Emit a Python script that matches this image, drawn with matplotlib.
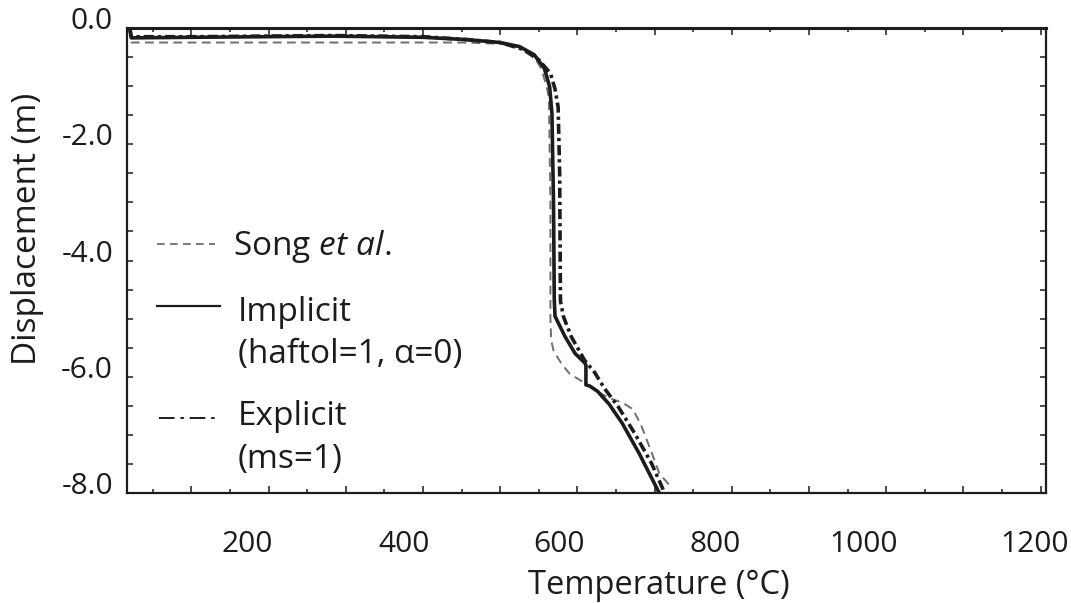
import matplotlib
matplotlib.use('Agg')
import matplotlib.pyplot as plt
from matplotlib.ticker import FixedLocator
from matplotlib.lines import Line2D
import matplotlib.transforms as mtransforms

# ---- data ----
temp_song = [20, 22, 100, 300, 450, 500, 525, 543, 553, 560, 563, 565, 565, 566, 569,
             579, 590, 606, 625, 642, 659, 672, 683, 696, 706, 720]
disp_song = [0.0, -0.25, -0.25, -0.25, -0.25, -0.27, -0.33, -0.47, -0.70, -1.00, -1.20, -3.0, -5.0,
             -5.37, -5.55, -5.77, -5.95, -6.08, -6.25, -6.37, -6.45, -6.56, -6.85, -7.30, -7.66, -7.88]

temp_implicit = [20, 22, 100, 283, 400, 457, 500, 525, 544, 557, 564, 567, 569, 570, 571,
                 584, 597, 610, 611, 611, 616, 626, 641, 658, 680, 706]
disp_implicit = [0.0, -0.17, -0.16, -0.14, -0.16, -0.20, -0.25, -0.32, -0.46, -0.69, -1.01, -1.47,
                 -3.0, -4.68, -4.96, -5.31, -5.60, -5.77, -5.80, -6.14, -6.16, -6.25, -6.47, -6.80,
                 -7.32, -8.0]

temp_explicit = [20, 22, 100, 283, 400, 457, 500, 530, 550, 565, 571, 575, 577, 578, 582,
                 592, 609, 622, 635, 653, 674, 696, 713]
disp_explicit = [0.0, -0.15, -0.15, -0.13, -0.15, -0.20, -0.25, -0.37, -0.55, -0.78, -1.05, -1.36,
                 -2.5, -4.7, -4.97, -5.31, -5.71, -5.92, -6.20, -6.52, -6.97, -7.49, -8.0]

x_tick_values = [200, 400, 600, 800, 1000, 1200]
x_tick_labels = ['200', '400', '600', '800', '1000', '1200']
y_tick_values = [0.0, -2.0, -4.0, -6.0, -8.0]
y_tick_labels = ['0.0', '-2.0', '-4.0', '-6.0', '-8.0']

legend_labels = ['Song $\\mathit{et\\ al.}$', 'Implicit', '(haftol=1, \u03b1=0)', 'Explicit', '(ms=1)']

# ---- style ----
plt.rcParams['font.family'] = ['Open Sans', 'DejaVu Sans']
plt.rcParams['mathtext.fontset'] = 'custom'
plt.rcParams['mathtext.rm'] = 'Open Sans'
plt.rcParams['mathtext.it'] = 'Open Sans:italic'
plt.rcParams['axes.unicode_minus'] = False

W, H = 1071, 603
FS_TICK = 21.5
FS_LABEL = 23.5
FS_LEG = 24
INK = '#1c1c1c'

fig = plt.figure(figsize=(W / 100, H / 100), dpi=100)
L, R, T, B = 127, 1046, 28, 493
ax = fig.add_axes([L / W, 1 - B / H, (R - L) / W, (B - T) / H])

song_style = dict(color='#6e6e6e', lw=1.4, ls=(0, (4.5, 2.8)))
impl_style = dict(color=INK, lw=2.6, solid_joinstyle='round', solid_capstyle='butt')
expl_style = dict(color=INK, lw=2.6, ls=(0, (2.8, 1.1, 0.9, 1.1)), dash_capstyle='butt')

ax.plot(temp_song, disp_song, **song_style)
ax.plot(temp_implicit, disp_implicit, **impl_style)
ax.plot(temp_explicit, disp_explicit, **expl_style)

ax.set_xlim(16.5, 1207)
ax.set_ylim(-8.0, 0.0)

# ticks
major_x = list(range(100, 1201, 100))
ax.set_xticks(major_x)
ax.set_xticklabels([(x_tick_labels[x_tick_values.index(v)] if v in x_tick_values else '')
                    for v in major_x])
ax.xaxis.set_minor_locator(FixedLocator(list(range(50, 1201, 100))))
ax.set_yticks(y_tick_values)
ax.set_yticklabels(y_tick_labels)
ax.yaxis.set_minor_locator(FixedLocator([-7.5, -7, -6.5, -5.5, -5, -4.5, -3.5, -3, -2.5,
                                         -1.5, -1, -0.5]))

ax.tick_params(axis='both', which='both', direction='in', top=True, right=True,
               width=1.1, color=INK, labelsize=FS_TICK, labelcolor=INK)
ax.tick_params(axis='x', which='major', length=5, pad=26.5)
ax.tick_params(axis='x', which='minor', length=3)
ax.tick_params(axis='y', which='both', length=4, pad=10)

for s in ax.spines.values():
    s.set_linewidth(1.6)
    s.set_color(INK)
ax.spines['top'].set_linewidth(2.2)

# per-label shifts as in the reference
x_shift_px = {'200': -21, '400': -18.5, '600': -18, '800': -17, '1000': -22.5, '1200': -6.5}
fig.canvas.draw()
for lab in ax.get_xticklabels():
    t = lab.get_text()
    if t in x_shift_px:
        off = mtransforms.ScaledTranslation(x_shift_px[t] / 100, 0, fig.dpi_scale_trans)
        lab.set_transform(lab.get_transform() + off)
for lab in ax.get_yticklabels():
    off = mtransforms.ScaledTranslation(0, 10 / 100, fig.dpi_scale_trans)
    lab.set_transform(lab.get_transform() + off)

# axis labels
ax.set_xlabel('Temperature (\u00b0C)', fontsize=FS_LABEL, color=INK)
ax.xaxis.set_label_coords((659 - L) / (R - L), (B - 594) / (B - T))
ax.xaxis.label.set_va('baseline')
ax.set_ylabel('Displacement (m)', fontsize=FS_LABEL + 0.5, color=INK)
ax.yaxis.set_label_coords((28 - L) / (R - L), (B - 229) / (B - T))
ax.yaxis.label.set_va('center')

# legend (drawn manually, as in the reference)
def fx(px):
    return px / W

def fy(py):
    return 1 - py / H

fig.add_artist(Line2D([fx(157), fx(215)], [fy(244)] * 2, transform=fig.transFigure,
                      color='#555555', lw=1.1, ls=(0, (5, 3.5))))
fig.add_artist(Line2D([fx(157), fx(220)], [fy(306)] * 2, transform=fig.transFigure,
                      color=INK, lw=1.6))
fig.add_artist(Line2D([fx(159), fx(215)], [fy(418)] * 2, transform=fig.transFigure,
                      color=INK, lw=1.4, ls=(0, (8, 3, 1.8, 3))))

fig.text(fx(233), fy(255), legend_labels[0], fontsize=FS_LEG, va='baseline', color=INK)
fig.text(fx(238), fy(321), legend_labels[1], fontsize=FS_LEG, va='baseline', color=INK)
fig.text(fx(238), fy(363), legend_labels[2], fontsize=FS_LEG, va='baseline', color=INK)
fig.text(fx(238), fy(425), legend_labels[3], fontsize=FS_LEG, va='baseline', color=INK)
fig.text(fx(238), fy(468), legend_labels[4], fontsize=FS_LEG, va='baseline', color=INK)

fig.savefig('out.png', dpi=100)
